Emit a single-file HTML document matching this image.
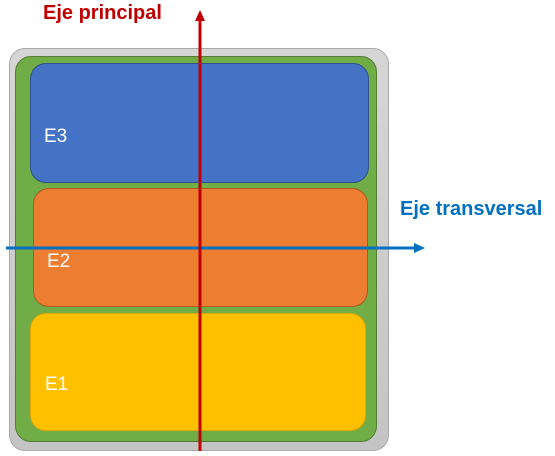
<!DOCTYPE html>
<html><head><style>
body{margin:0;width:555px;height:456px;background:#fff;position:relative;overflow:hidden;font-family:"Liberation Sans",sans-serif}
div{position:absolute;box-sizing:border-box}
.l{color:#fff;font-size:19px}
</style></head><body>
<div style="left:9px;top:48px;width:380px;height:403px;background:linear-gradient(#d6d6d6,#c4c4c4);border:1px solid #aaa;border-radius:16px"></div>
<div style="left:15px;top:56px;width:362px;height:386px;background:#70ad47;border:1px solid #507e32;border-radius:16px"></div>
<div style="left:30px;top:63px;width:339px;height:120px;background:#4472c4;border:1px solid #2f528f;border-radius:16px"></div>
<div style="left:33px;top:188px;width:335px;height:119px;background:#ed7d31;border:1px solid #ae5a21;border-radius:16px"></div>
<div style="left:30px;top:313px;width:336px;height:118px;background:#ffc000;border:1px solid #e0a800;border-radius:16px"></div>
<div class="l" style="left:44px;top:126px">E3</div>
<div class="l" style="left:47px;top:251px">E2</div>
<div class="l" style="left:45px;top:374px">E1</div>
<svg width="555" height="456" style="position:absolute;left:0;top:0">
<line x1="6" y1="248" x2="414" y2="248" stroke="#0070c0" stroke-width="3"/>
<polygon points="414,243 425,248 414,253" fill="#0070c0"/>
<line x1="200" y1="451" x2="200" y2="20" stroke="#c00000" stroke-width="3"/>
<polygon points="195,21 200,10 205,21" fill="#c00000"/>
</svg>
<div style="left:43px;top:2px;color:#c00000;font-weight:bold;font-size:20px">Eje principal</div>
<div style="left:400px;top:198px;color:#0070c0;font-weight:bold;font-size:20px">Eje transversal</div>
</body></html>
